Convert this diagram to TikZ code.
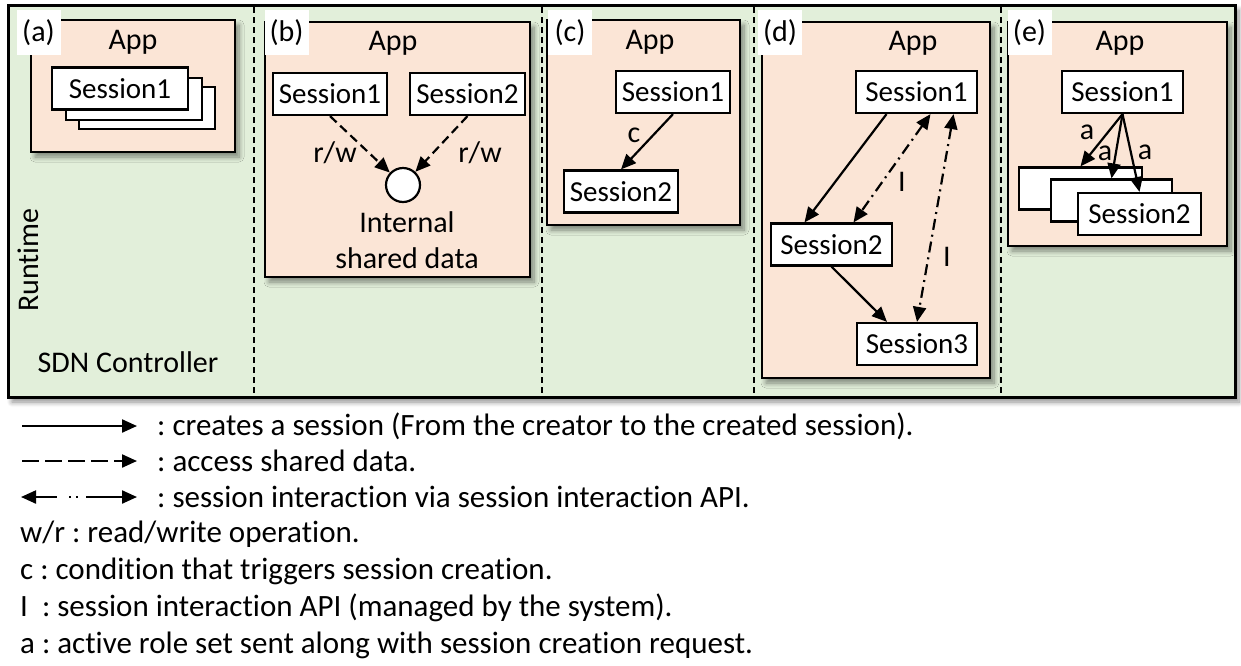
\documentclass[tikz,border=0pt]{standalone}
\usepackage{fontspec}
\setmainfont{Carlito}[Ligatures=NoCommon]
\usepackage{tikz}
\usetikzlibrary{arrows.meta,calc,positioning,shadows.blur}
\definecolor{rtgreen}{RGB}{226,239,218}
\definecolor{apppeach}{RGB}{251,229,214}
\frenchspacing
\tikzset{
  shade box/.style={blur shadow={shadow xshift=4pt,shadow yshift=-5pt,shadow blur radius=5pt,shadow blur steps=8,shadow opacity=45}},
  appbox/.style={draw,line width=2.8pt,fill=apppeach,inner sep=0pt,shade box},
  sess/.style={draw,line width=2.2pt,fill=white,inner sep=0pt,minimum height=42pt,font=\fontsize{29}{32}\selectfont},
  tag/.style={fill=white,inner sep=0pt,minimum width=44pt,minimum height=45pt,font=\fontsize{30}{34}\selectfont},
  lbl/.style={inner sep=0pt,font=\fontsize{30}{36}\selectfont},
  key/.style={inner sep=0pt,anchor=west,font=\fontsize{31}{38}\selectfont},
  sep/.style={line width=1.6pt,dash pattern=on 6pt off 4pt},
  creates/.style={line width=2.2pt,-{Triangle[length=15pt,width=13pt]}},
  access/.style={creates,dash pattern=on 9pt off 5pt},
  interact/.style={line width=2.2pt,{Triangle[length=15pt,width=13pt]}-{Triangle[length=15pt,width=13pt]},dash pattern=on 11pt off 5pt on 2pt off 5pt},
}
\begin{document}
\begin{tikzpicture}[x=1pt,y=-1pt]
\useasboundingbox (0,0) rectangle (1241,665);

\node[draw,line width=3pt,fill=rtgreen,minimum width=1227pt,minimum height=392pt,inner sep=0pt,shade box] (ctrl) at (621.5,201) {};
\foreach \x in {254,542,754,1001}
  \draw[sep] (\x,7) -- (\x,395);
\node[lbl,rotate=90] (rt) at (28,260) {Runtime};
\node[lbl] (sdn) at (128,362) {SDN Controller};

% (a)
\node[appbox,minimum width=204pt,minimum height=132pt] (appa) at (133,86) {};
\node[lbl] (appat) at (133,42) {App};
\node[sess,minimum width=136pt] (sa3) at (147,108) {};
\node[sess,minimum width=136pt] (sa2) at (134,99) {};
\node[sess,minimum width=136pt] (sa1) at (120,88.5) {Session1};
\node[tag] (taga) at (38.5,32.5) {(a)};

% (b)
\node[appbox,minimum width=265pt,minimum height=255pt] (appb) at (397.5,149.5) {};
\node[lbl] (appbt) at (393,43) {App};
\node[sess,minimum width=114pt] (s1b) at (330,94) {Session1};
\node[sess,minimum width=115pt] (s2b) at (467.5,94) {Session2};
\node[draw,circle,line width=2.2pt,fill=white,minimum size=34pt,inner sep=0pt] (data) at (403,185) {};
\node[lbl,align=center] (datat) at (407,240) {Internal\\shared data};
\draw[access] (s1b.south) -- (data);
\draw[access] (s2b.south) -- (data);
\node[lbl] (rw1) at (335,153) {r/w};
\node[lbl] (rw2) at (480,153) {r/w};
\node[tag] (tagb) at (286.5,32.5) {(b)};

% (c)
\node[appbox,minimum width=193pt,minimum height=205pt] (appc) at (643.5,122.5) {};
\node[lbl] (appct) at (650,42) {App};
\node[sess,minimum width=114pt] (s1c) at (673,92) {Session1};
\node[sess,minimum width=114pt] (s2c) at (621,191.5) {Session2};
\draw[creates] (s1c.south) -- (s2c.north);
\node[lbl] (cond) at (634,135) {c};
\node[tag] (tagc) at (570,32.5) {(c)};

% (d)
\node[appbox,minimum width=228pt,minimum height=356pt] (appd) at (876,200) {};
\node[lbl] (appdt) at (913,43) {App};
\node[sess,minimum width=121pt] (s1d) at (916.5,92) {Session1};
\node[sess,minimum width=121pt] (s2d) at (831.5,244.5) {Session2};
\node[sess,minimum width=120pt] (s3d) at (917,344) {Session3};
\draw[creates] ([xshift=-30pt]s1d.south) -- ([xshift=-27pt]s2d.north);
\draw[creates] (s2d.south) -- ([xshift=-30pt]s3d.north);
\draw[interact] ([xshift=14pt]s1d.south) -- ([xshift=22pt]s2d.north);
\draw[interact] ([xshift=37pt]s1d.south) -- (s3d.north);
\node[lbl] (api1) at (902,182) {I};
\node[lbl] (api2) at (947,257) {I};
\node[tag] (tagd) at (780,32.5) {(d)};

% (e)
\node[appbox,minimum width=219pt,minimum height=224pt] (appe) at (1117.5,134) {};
\node[lbl] (appet) at (1120,43) {App};
\node[sess,minimum width=121pt] (s1e) at (1122.5,92) {Session1};
\node[sess,minimum width=123pt] (se3) at (1080.5,188.5) {};
\node[sess,minimum width=121pt] (se2) at (1111.5,200.5) {};
\node[sess,minimum width=123pt] (se1) at (1139.5,214) {Session2};
\draw[creates] (s1e.south) -- (se3.north);
\draw[creates] (s1e.south) -- (se2.north);
\draw[creates] (s1e.south) -- (se1.north);
\node[lbl] (role1) at (1087,132) {a};
\node[lbl] (role2) at (1105,153) {a};
\node[lbl] (role3) at (1145,152) {a};
\node[tag] (tage) at (1029.5,32.5) {(e)};

% legend
\coordinate (k1s) at (22,426); \coordinate (k1e) at (137,426);
\coordinate (k2s) at (22,461); \coordinate (k2e) at (137,461);
\coordinate (k3s) at (21,497); \coordinate (k3e) at (137,497);
\draw[creates] (k1s) -- (k1e);
\draw[creates,dash pattern=on 17pt off 6pt] (k2s) -- (k2e);
\draw[interact,dash pattern=on 22pt off 12pt on 2pt off 5pt on 2pt off 8pt on 60pt off 1pt] (k3s) -- (k3e);
\node[key] (k1t) at (157,426) {: creates a session (From the creator to the created session).};
\node[key] (k2t) at (157,461) {: access shared data.};
\node[key] (k3t) at (157,497) {: session interaction via session interaction API.};
\node[key] (k4t) at (20,534) {w/r : read/write operation.};
\node[key] (k5t) at (20,571) {c : condition that triggers session creation.};
\node[key] (k6t) at (20,608) {I\ \ : session interaction API (managed by the system).};
\node[key] (k7t) at (20,645) {a : active role set sent along with session creation request.};
\end{tikzpicture}
\end{document}
